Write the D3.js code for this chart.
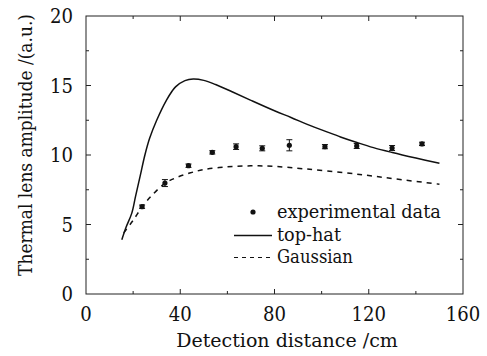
<!DOCTYPE html>
<html>
<head>
<meta charset="utf-8">
<script src="https://cdn.jsdelivr.net/npm/d3@7"></script>
<style>
  body { margin: 0; background: #fff; }
</style>
</head>
<body>
<div id="chart"></div>
<script>
// experimental points: distance (cm), amplitude, error
var expX = [23.8, 33.5, 43.5, 53.6, 63.7, 74.8, 86.3, 101.4, 114.9, 129.9, 142.6];
var expY = [6.28, 7.98, 9.23, 10.19, 10.6, 10.48, 10.7, 10.6, 10.65, 10.5, 10.8];
var expErr = [0.12, 0.25, 0.12, 0.12, 0.2, 0.18, 0.4, 0.15, 0.18, 0.18, 0.12];

// top-hat model curve
var topHatX = [15.2, 17, 19.4, 21, 23, 25, 27, 30, 34, 38, 42, 45.5, 50, 55, 62, 70, 80, 87, 95, 101.4, 108, 115, 122, 130, 140, 150];
var topHatY = [3.9, 4.8, 5.8, 7.0, 8.5, 10.0, 11.2, 12.5, 13.9, 14.9, 15.35, 15.47, 15.37, 15.07, 14.55, 13.93, 13.18, 12.7, 12.13, 11.72, 11.3, 10.9, 10.53, 10.18, 9.78, 9.4];

// Gaussian model curve
var gaussX = [16, 20, 24, 28, 33.5, 38, 44, 50, 60, 70, 80, 93, 110, 122, 135, 150];
var gaussY = [4.4, 5.3, 6.3, 7.1, 7.96, 8.35, 8.7, 8.95, 9.15, 9.22, 9.18, 9.0, 8.72, 8.48, 8.2, 7.9];

var xTicks = [0, 40, 80, 120, 160];
var yTicks = [0, 5, 10, 15, 20];

// put a text at (x, y) and squeeze it horizontally to a target width
function fitText(parent, str, x, y, size, width, anchor, rotate) {
    var t = parent.append("text")
        .attr("font-size", size)
        .attr("text-anchor", anchor)
        .text(str);
    var s = Math.min(1, width / t.node().getComputedTextLength());
    t.attr("transform", "translate(" + x + "," + y + ")" +
        (rotate ? " rotate(" + rotate + ")" : "") + " scale(" + s + ",1)");
    return t;
}

function init() {
    var w = 487, h = 356;
    var left = 86, right = 463, top = 16, bottom = 294;

    var x = d3.scaleLinear().domain([0, 160]).range([left, right]);
    var y = d3.scaleLinear().domain([0, 20]).range([bottom, top]);

    var svg = d3.select("#chart").append("svg")
        .attr("width", w).attr("height", h)
        .attr("font-family", "'DejaVu Serif', 'Liberation Serif', serif")
        .attr("fill", "#111");

    var frame = "#222";

    // frame box
    svg.append("rect")
        .attr("x", left).attr("y", top)
        .attr("width", right - left).attr("height", bottom - top)
        .attr("fill", "none").attr("stroke", frame).attr("stroke-width", 1);

    // inward ticks on all four sides
    var xAll = d3.range(0, 161, 20);
    var yAll = d3.range(0, 20.1, 2.5);
    xAll.forEach(function(v) {
        var len = (v % 40 === 0) ? 5 : 3;
        if (v === 0 || v === 160) return;
        svg.append("line").attr("x1", x(v)).attr("x2", x(v))
            .attr("y1", bottom).attr("y2", bottom - len).attr("stroke", frame);
        svg.append("line").attr("x1", x(v)).attr("x2", x(v))
            .attr("y1", top).attr("y2", top + len).attr("stroke", frame);
    });
    yAll.forEach(function(v) {
        var len = (v % 5 === 0) ? 5 : 3;
        if (v === 0 || v === 20) return;
        svg.append("line").attr("y1", y(v)).attr("y2", y(v))
            .attr("x1", left).attr("x2", left + len).attr("stroke", frame);
        svg.append("line").attr("y1", y(v)).attr("y2", y(v))
            .attr("x1", right).attr("x2", right - len).attr("stroke", frame);
    });

    // tick labels
    xTicks.forEach(function(d) {
        fitText(svg, String(d), x(d), 321, 20, String(d).length * 11.5, "middle");
    });
    yTicks.forEach(function(d) {
        fitText(svg, String(d), 73, y(d) + 7, 20, String(d).length * 11.5, "end");
    });

    // axis titles
    fitText(svg, "Detection distance /cm", 287, 347, 19, 231, "middle");
    fitText(svg, "Thermal lens amplitude /(a.u.)", 32, 145, 19, 262, "middle", -90);

    // model curves
    var line = d3.line()
        .x(function(d) { return x(d[0]); })
        .y(function(d) { return y(d[1]); })
        .curve(d3.curveCatmullRom);

    svg.append("path")
        .datum(d3.zip(topHatX, topHatY))
        .attr("d", line)
        .attr("fill", "none").attr("stroke", "#111").attr("stroke-width", 1.5);

    svg.append("path")
        .datum(d3.zip(gaussX, gaussY))
        .attr("d", line)
        .attr("fill", "none").attr("stroke", "#111").attr("stroke-width", 1.5)
        .attr("stroke-dasharray", "5,5");

    // experimental points with error bars
    var pts = d3.range(expX.length).map(function(i) {
        return { x: expX[i], y: expY[i], e: expErr[i] };
    });
    var g = svg.selectAll(".pt").data(pts).enter().append("g");
    g.append("line")
        .attr("x1", function(d) { return x(d.x); }).attr("x2", function(d) { return x(d.x); })
        .attr("y1", function(d) { return y(d.y - d.e); }).attr("y2", function(d) { return y(d.y + d.e); })
        .attr("stroke", "#111");
    [-1, 1].forEach(function(s) {
        g.append("line")
            .attr("x1", function(d) { return x(d.x) - 3; }).attr("x2", function(d) { return x(d.x) + 3; })
            .attr("y1", function(d) { return y(d.y + s * d.e); }).attr("y2", function(d) { return y(d.y + s * d.e); })
            .attr("stroke", "#111");
    });
    g.append("circle")
        .attr("cx", function(d) { return x(d.x); })
        .attr("cy", function(d) { return y(d.y); })
        .attr("r", 2.6).attr("fill", "#111");

    // legend
    svg.append("circle").attr("cx", 253).attr("cy", 212).attr("r", 2.6).attr("fill", "#111");
    fitText(svg, "experimental data", 277, 218, 18, 164, "start");
    svg.append("line").attr("x1", 234).attr("x2", 272).attr("y1", 235.5).attr("y2", 235.5)
        .attr("stroke", "#111").attr("stroke-width", 1.5);
    fitText(svg, "top-hat", 277, 241, 18, 64, "start");
    svg.append("line").attr("x1", 234).attr("x2", 272).attr("y1", 257.5).attr("y2", 257.5)
        .attr("stroke", "#111").attr("stroke-width", 1.2).attr("stroke-dasharray", "4,4");
    fitText(svg, "Gaussian", 277, 263, 18, 76, "start");
}

window.onload = init;
</script>
</body>
</html>
